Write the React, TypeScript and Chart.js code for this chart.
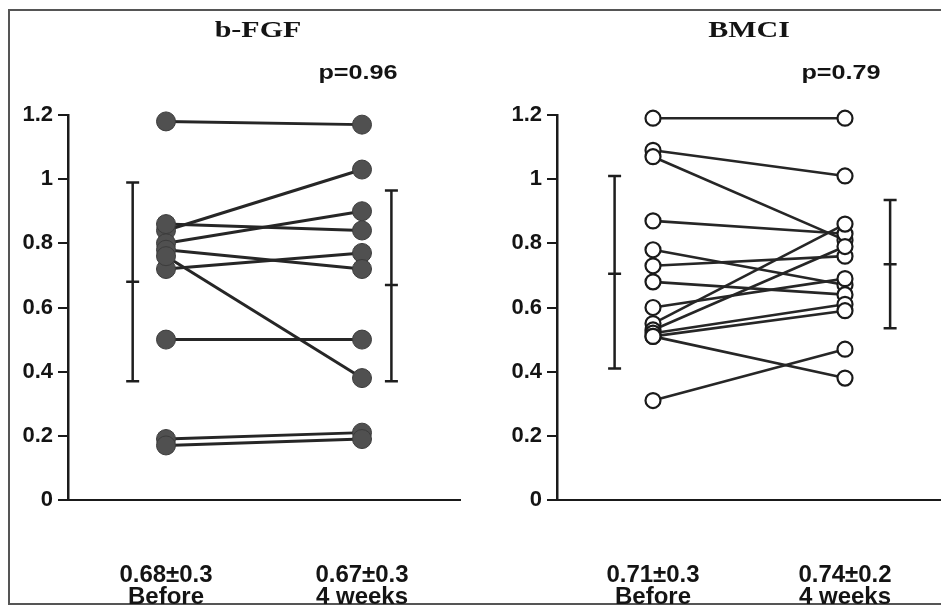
import React, { useEffect, useRef } from 'react';
import { Chart, registerables } from 'chart.js';

Chart.register(...registerables);

// ---------- data ----------
const groups = ['Before', '4 weeks'];
const yTickValues = [0, 0.2, 0.4, 0.6, 0.8, 1, 1.2];

const fgfTitle = 'b-FGF';
const fgfP = 'p=0.96';
const fgfBefore = [1.18, 0.84, 0.8, 0.86, 0.72, 0.78, 0.76, 0.5, 0.19, 0.17];
const fgfAfter = [1.17, 1.03, 0.9, 0.84, 0.77, 0.72, 0.38, 0.5, 0.21, 0.19];
const fgfMean = [0.68, 0.67];
const fgfLow = [0.37, 0.37];
const fgfHigh = [0.99, 0.965];
const fgfSummary = ['0.68\u00B10.3', '0.67\u00B10.3'];

const bmciTitle = 'BMCI';
const bmciP = 'p=0.79';
const bmciBefore = [1.19, 1.09, 1.07, 0.87, 0.78, 0.73, 0.68, 0.6, 0.55, 0.53, 0.52, 0.51, 0.51, 0.31];
const bmciAfter = [1.19, 1.01, 0.81, 0.83, 0.67, 0.76, 0.64, 0.69, 0.86, 0.79, 0.61, 0.59, 0.38, 0.47];
const bmciMean = [0.705, 0.735];
const bmciLow = [0.41, 0.535];
const bmciHigh = [1.01, 0.935];
const bmciSummary = ['0.71\u00B10.3', '0.74\u00B10.2'];

// x positions of the two groups (layout, not data)
const GROUP_X = [1, 3];
const FONT = '"Liberation Sans", Arial, sans-serif';

function stretchText(ctx: CanvasRenderingContext2D, text: string, x: number, y: number, sx: number) {
  ctx.save();
  ctx.translate(x, y);
  ctx.scale(sx, 1);
  ctx.fillText(text, 0, 0);
  ctx.restore();
}

const decorPlugin = {
  id: 'decor',
  beforeDatasetsDraw(chart: any, _args: any, opts: any) {
    const { ctx, scales } = chart;
    const x = scales.x;
    const y = scales.y;
    ctx.save();
    ctx.strokeStyle = '#1e1e1e';
    ctx.lineWidth = 2.5;
    ctx.lineCap = 'butt';
    opts.errX.forEach((ex: number, i: number) => {
      const px = x.getPixelForValue(ex);
      const top = y.getPixelForValue(opts.high[i]);
      const bot = y.getPixelForValue(opts.low[i]);
      const mid = y.getPixelForValue(opts.mean[i]);
      const hw = 6.5;
      ctx.beginPath();
      ctx.moveTo(px, top);
      ctx.lineTo(px, bot);
      ctx.moveTo(px - hw, top);
      ctx.lineTo(px + hw, top);
      ctx.moveTo(px - hw, bot);
      ctx.lineTo(px + hw, bot);
      ctx.moveTo(px - hw, mid);
      ctx.lineTo(px + hw, mid);
      ctx.stroke();
    });
    ctx.restore();
  },
  afterDraw(chart: any, _args: any, opts: any) {
    const { ctx, scales, chartArea } = chart;
    ctx.save();
    ctx.fillStyle = '#141414';
    ctx.textAlign = 'center';
    ctx.textBaseline = 'alphabetic';
    ctx.font = 'bold 24px "Liberation Serif", "Times New Roman", serif';
    const cx = (chartArea.left + chartArea.right) / 2 + opts.titleShift;
    stretchText(ctx, opts.title, cx, 37, 1.25);
    ctx.font = 'bold 21px ' + FONT;
    const px = scales.x.getPixelForValue(GROUP_X[1]);
    stretchText(ctx, opts.p, px - 4, 79, 1.2);
    ctx.restore();
  },
};

interface PanelProps {
  left: number;
  width: number;
  yAxisWidth: number;
  rightPad: number;
  title: string;
  p: string;
  titleShift: number;
  before: number[];
  after: number[];
  mean: number[];
  low: number[];
  high: number[];
  summary: string[];
  errX: number[];
  filled: boolean;
}

function Panel(props: PanelProps) {
  const ref = useRef<HTMLCanvasElement | null>(null);
  useEffect(() => {
    if (!ref.current) return;
    const lineDatasets = props.before.map((b, i) => ({
      data: [
        { x: GROUP_X[0], y: b },
        { x: GROUP_X[1], y: props.after[i] },
      ],
      showLine: true,
      borderColor: '#262626',
      borderWidth: props.filled ? 3 : 2.6,
      pointRadius: 0,
      order: 1,
      clip: false as any,
    }));
    const pointDataset = {
      data: [
        ...props.before.map((b) => ({ x: GROUP_X[0], y: b })),
        ...props.after.map((a) => ({ x: GROUP_X[1], y: a })),
      ],
      showLine: false,
      pointRadius: props.filled ? 9.5 : 7.5,
      pointBackgroundColor: props.filled ? '#505050' : '#ffffff',
      pointBorderColor: props.filled ? '#3c3c3c' : '#1a1a1a',
      pointBorderWidth: props.filled ? 1 : 2.2,
      order: 0,
      clip: false as any,
    };
    const chart = new Chart(ref.current, {
      type: 'scatter',
      data: { datasets: [...lineDatasets, pointDataset] as any },
      plugins: [decorPlugin],
      options: {
        animation: false,
        responsive: false,
        maintainAspectRatio: false,
        layout: { autoPadding: false, padding: { top: 115, right: props.rightPad, left: 0, bottom: 0 } },
        plugins: {
          legend: { display: false },
          tooltip: { enabled: false },
          decor: {
            errX: props.errX,
            mean: props.mean,
            low: props.low,
            high: props.high,
            title: props.title,
            p: props.p,
            titleShift: props.titleShift,
          },
        } as any,
        scales: {
          x: {
            type: 'linear',
            min: 0,
            max: 4,
            afterBuildTicks: (s: any) => {
              s.ticks = GROUP_X.map((v) => ({ value: v }));
            },
            afterFit: (s: any) => {
              s.height = 105;
              s.paddingLeft = 0;
              s.paddingRight = 0;
            },
            grid: { display: false, drawTicks: false },
            border: { display: true, color: '#1a1a1a', width: 2 },
            ticks: {
              autoSkip: false,
              maxRotation: 0,
              padding: 64,
              color: '#141414',
              font: { family: FONT, weight: 'bold', size: 24, lineHeight: 0.92 },
              callback: (v: any) => {
                const idx = GROUP_X.indexOf(Number(v));
                return idx < 0 ? '' : [props.summary[idx], groups[idx]];
              },
            },
          },
          y: {
            min: 0,
            max: 1.2,
            afterBuildTicks: (s: any) => {
              s.ticks = yTickValues.map((v) => ({ value: v }));
            },
            afterFit: (s: any) => {
              s.width = props.yAxisWidth;
            },
            grid: { drawOnChartArea: false, drawTicks: true, tickLength: 10, color: '#1a1a1a', lineWidth: 2 },
            border: { display: true, color: '#1a1a1a', width: 2.5 },
            ticks: {
              padding: 5,
              color: '#141414',
              font: { family: FONT, weight: 'bold', size: 22 },
              callback: (v: any) => String(Math.round(Number(v) * 10) / 10),
            },
          },
        },
      } as any,
    });
    return () => chart.destroy();
  }, []);
  return (
    <canvas
      ref={ref}
      width={props.width}
      height={605}
      style={{ position: 'absolute', left: props.left, top: 0, width: props.width, height: 605 }}
    />
  );
}

export default function App() {
  return (
    <div style={{ position: 'absolute', left: 0, top: 0, width: 941, height: 605, overflow: 'hidden', background: '#fff' }}>
      <div
        style={{
          position: 'absolute',
          left: 8,
          top: 9,
          width: 960,
          height: 592,
          borderLeft: '2px solid #555',
          borderTop: '2px solid #555',
          borderBottom: '2px solid #555',
        }}
      />
      <Panel
        left={0}
        width={470}
        yAxisWidth={68}
        rightPad={10}
        title={fgfTitle}
        p={fgfP}
        titleShift={-6}
        before={fgfBefore}
        after={fgfAfter}
        mean={fgfMean}
        low={fgfLow}
        high={fgfHigh}
        summary={fgfSummary}
        errX={[0.66, 3.3]}
        filled={true}
      />
      <Panel
        left={470}
        width={471}
        yAxisWidth={87}
        rightPad={0}
        title={bmciTitle}
        p={bmciP}
        titleShift={0}
        before={bmciBefore}
        after={bmciAfter}
        mean={bmciMean}
        low={bmciLow}
        high={bmciHigh}
        summary={bmciSummary}
        errX={[0.6, 3.47]}
        filled={false}
      />
    </div>
  );
}
